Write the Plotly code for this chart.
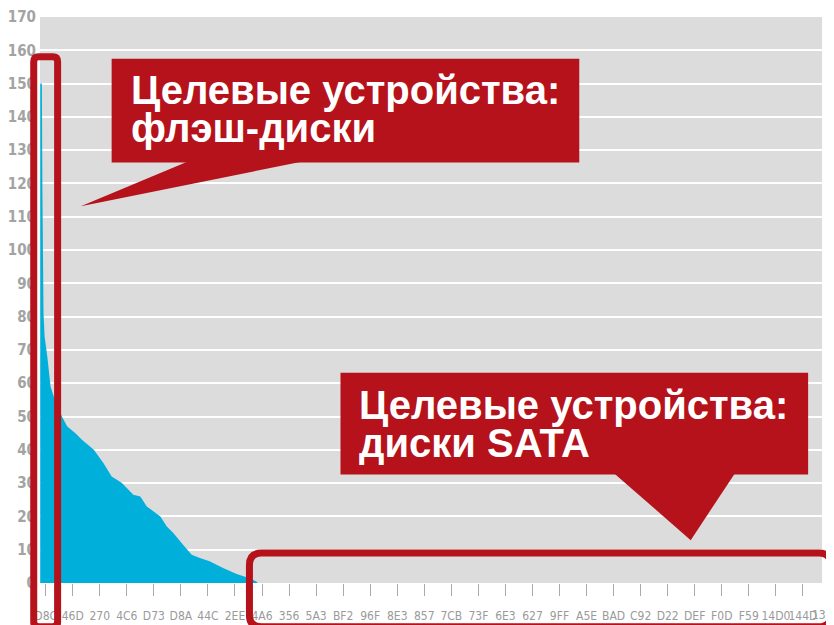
import plotly.graph_objects as go

# ---- data ----
device_idx = [-10, -7, -6, -4, -2, 3, 9, 15, 30, 40, 55, 67, 89, 98, 107, 122,
              141, 162, 175, 187, 212, 224, 236, 254, 270, 285, 303, 328, 352,
              374, 389, 392]
load_values = [150, 150, 117, 81, 74, 68, 59, 56, 50, 47, 45, 43, 40, 38, 36, 32,
               30, 26.5, 26, 23, 20, 17, 15, 11.5, 8.5, 7.5, 6.5, 4.5, 2.8,
               1.6, 0.5, 0]

x_tick_vals = list(range(0, 1451, 50))
x_tick_text = ["D8C", "46D", "270", "4C6", "D73", "D8A", "44C", "2EE", "4A6", "356",
               "5A3", "BF2", "96F", "8E3", "857", "7CB", "73F", "6E3", "627", "9FF",
               "A5E", "BAD", "C92", "D22", "DEF", "F0D", "F59", "14D0", "144D", "13C8"]
cut_label = "13C"   # last tick label, cut off by the right edge in the reference
y_tick_vals = list(range(0, 171, 10))

callout_1 = ["Целевые устройства:", "флэш-диски"]
callout_2 = ["Целевые устройства:", "диски SATA"]

# ---- layout helpers (screen pixel coords; page body has an 8px margin) ----
OFF = 8
W, H = 834 - OFF, 625 - OFF
ML, MR, MT, MB = 36 - OFF, 0, 15 - OFF, 625 - 583
PW, PH = W - ML - MR, H - MT - MB
RED = "#b5121b"
TICK_FONT = "Liberation Sans Narrow, DejaVu Sans Condensed, sans-serif"


def px(x):
    return (x - OFF - ML) / PW


def py(y):
    return (H - MB - (y - OFF)) / PH


def rounded_rect(x0, y0, x1, y1, r):
    pts = [
        ("M", x0 + r, y0), ("L", x1 - r, y0), ("Q", x1, y0, x1, y0 + r),
        ("L", x1, y1 - r), ("Q", x1, y1, x1 - r, y1), ("L", x0 + r, y1),
        ("Q", x0, y1, x0, y1 - r), ("L", x0, y0 + r), ("Q", x0, y0, x0 + r, y0),
    ]
    out = []
    for p in pts:
        cmd = p[0]
        coords = p[1:]
        s = []
        for i in range(0, len(coords), 2):
            s.append(f"{px(coords[i]):.5f},{py(coords[i + 1]):.5f}")
        out.append(cmd + " " + " ".join(s))
    return " ".join(out) + " Z"


def tri(a, b, c):
    return (f"M {px(a[0]):.5f},{py(a[1]):.5f} L {px(b[0]):.5f},{py(b[1]):.5f} "
            f"L {px(c[0]):.5f},{py(c[1]):.5f} Z")


fig = go.Figure()
fig.add_trace(go.Scatter(
    x=device_idx, y=load_values, mode="lines", fill="tozeroy",
    line=dict(width=0, color="#00b0da"), fillcolor="#00b0da",
    hoverinfo="skip", showlegend=False,
))

shapes = [
    # white strip to the right of the grey plot background
    dict(type="rect", xref="paper", yref="paper", x0=px(822), x1=1.0, y0=0, y1=1,
         fillcolor="white", line=dict(width=0), layer="above"),
    # callout 1
    dict(type="rect", xref="paper", yref="paper", x0=px(108), x1=px(578),
         y0=py(161), y1=py(57), fillcolor=RED, line=dict(width=0)),
    dict(type="path", xref="paper", yref="paper",
         path=tri((187, 159), (305, 159), (77, 205)), fillcolor=RED, line=dict(width=0)),
    # callout 2
    dict(type="rect", xref="paper", yref="paper", x0=px(338), x1=px(808),
         y0=py(474), y1=py(372), fillcolor=RED, line=dict(width=0)),
    dict(type="path", xref="paper", yref="paper",
         path=tri((612, 472), (735, 472), (690, 540)), fillcolor=RED, line=dict(width=0)),
    # outline frames
    dict(type="path", xref="paper", yref="paper",
         path=rounded_rect(29.7, 55, 53.7, 627, 5), line=dict(color=RED, width=7)),
    dict(type="path", xref="paper", yref="paper",
         path=rounded_rect(246.5, 553, 831, 627, 12), line=dict(color=RED, width=7)),
]

annotations = []
txt_font = dict(family="Liberation Sans, Arial, sans-serif", size=40, color="white", weight="bold")
for (tx, ys, lines) in [(125, (88, 126), callout_1), (355, (404, 443), callout_2)]:
    for yv, line in zip(ys, lines):
        annotations.append(dict(
            xref="paper", yref="paper", x=px(tx), y=py(yv), xanchor="left",
            yanchor="middle", text=line, showarrow=False, font=txt_font, align="left"))

# the last, edge-clipped tick label
annotations.append(dict(
    xref="paper", yref="paper", x=1.0, y=py(615), xanchor="right", yanchor="middle",
    text=cut_label, showarrow=False, borderpad=0,
    font=dict(family=TICK_FONT, size=12, color="#9a9a9a")))

fig.update_layout(
    width=W, height=H,
    margin=dict(l=ML, r=MR, t=MT, b=MB, pad=0),
    paper_bgcolor="white", plot_bgcolor="#dcdcdc",
    showlegend=False,
    shapes=shapes, annotations=annotations,
    xaxis=dict(
        range=[-10.5, 1457.5], tickvals=x_tick_vals, ticktext=x_tick_text,
        ticks="outside", ticklen=12, tickwidth=1, tickcolor="#aaaaaa",
        tickfont=dict(family=TICK_FONT, size=12, color="#9a9a9a"),
        ticklabelstandoff=10,
        showgrid=False, zeroline=False, showline=False, tickangle=0,
    ),
    yaxis=dict(
        range=[0, 170], tickvals=y_tick_vals,
        showgrid=True, gridcolor="white", gridwidth=2, zeroline=False, showline=False,
        ticks="",
        tickfont=dict(family=TICK_FONT, size=15, color="#a3a3a3", weight="bold"),
        ticklabelstandoff=3, ticklabeloverflow="allow",
    ),
)

fig.write_html("out.html")
